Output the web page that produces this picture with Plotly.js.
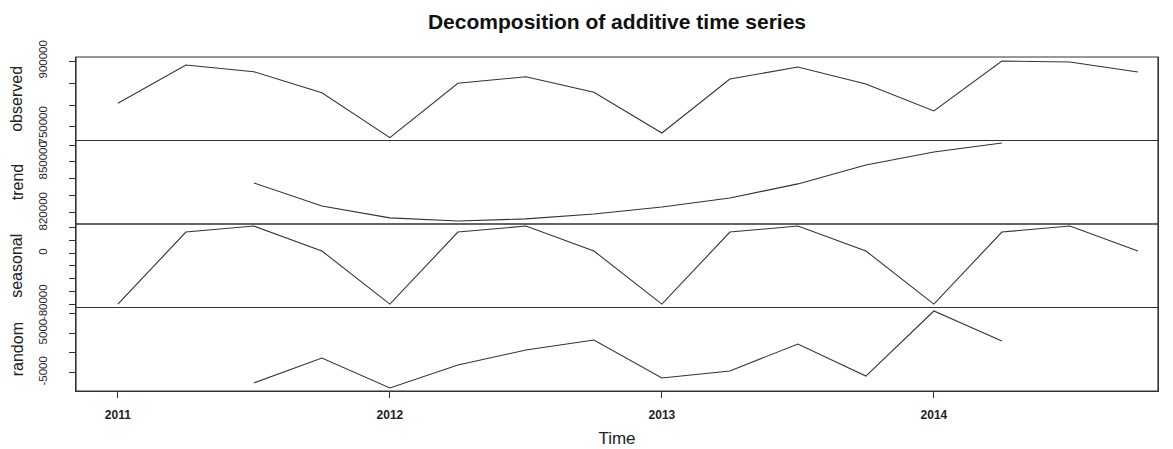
<!DOCTYPE html>
<html>
<head>
<meta charset="utf-8">
<script src="https://cdn.plot.ly/plotly-3.0.1.min.js"></script>
<style>html,body{margin:0;padding:0;background:#fff;}#chart{width:1173px;height:449px;}</style>
</head>
<body>
<div id="chart"></div>
<script>
// Quarterly time points
const time = [2011.00, 2011.25, 2011.50, 2011.75,
              2012.00, 2012.25, 2012.50, 2012.75,
              2013.00, 2013.25, 2013.50, 2013.75,
              2014.00, 2014.25, 2014.50, 2014.75];

const observed = [804000, 890900, 875700, 828000,
                  725700, 849300, 864300, 828900,
                  736400, 859100, 886400, 847700,
                  786400, 900000, 897700, 875000];

const trend = [null, null, 837650, 824100,
               817100, 815300, 816500, 819400,
               823500, 828800, 837100, 848200,
               855900, 861200, null, null];

const seasonal = [-80200, 33500, 43000, 3700,
                  -80200, 33500, 43000, 3700,
                  -80200, 33500, 43000, 3700,
                  -80200, 33500, 43000, 3700];

const random = [null, null, -7670, -1300,
                -8950, -3080, 740, 3290,
                -6400, -4600, 2270, -5900,
                10690, 3040, null, null];

const panelNames = ["observed", "trend", "seasonal", "random"];
const xTicks = [2011, 2012, 2013, 2014];
const xTickText = ["2011", "2012", "2013", "2014"];

const obsTicks = [750000, 800000, 850000, 900000];
const obsTickText = ["750000", "", "", "900000"];
const trendTicks = [820000, 830000, 840000, 850000, 860000];
const trendTickText = ["820000", "", "", "850000", ""];
const seasTicks = [-80000, -60000, -40000, -20000, 0, 20000, 40000];
const seasTickText = ["-80000", "", "", "", "0", "", ""];
const randTicks = [-5000, 0, 5000, 10000];
const randTickText = ["-5000", "", "5000", ""];

const lineStyle = {color: "#333333", width: 1.1};
const series = [observed, trend, seasonal, random];
const axisIds = ["y", "y2", "y3", "y4"];

const traces = series.map((s, i) => ({
  x: time, y: s, type: "scatter", mode: "lines",
  line: lineStyle, xaxis: "x", yaxis: axisIds[i],
  connectgaps: false, hoverinfo: "skip", showlegend: false
}));

const domains = [[0.75, 1.0], [0.5, 0.75], [0.25, 0.5], [0.0, 0.25]];
const ranges = [[719300, 909100], [813500, 862650], [-85530, 46240], [-9710, 11580]];
const tv = [obsTicks, trendTicks, seasTicks, randTicks];
const tt = [obsTickText, trendTickText, seasTickText, randTickText];

const fam = "Liberation Sans, Arial, sans-serif";
const yTickFont = {family: fam, size: 11.5, color: "#222"};
const xTickFont = {family: fam, size: 12, color: "#222", weight: "bold"};

function yAxis(i) {
  return {
    domain: domains[i], range: ranges[i], autorange: false,
    tickmode: "array", tickvals: tv[i], ticktext: tt[i],
    ticks: "outside", ticklen: 6, tickwidth: 1, tickcolor: "#333",
    tickangle: -90, tickfont: yTickFont, ticklabelstandoff: 17,
    showline: true, linecolor: "#333", linewidth: 1, mirror: true,
    showgrid: false, zeroline: false, anchor: "x", fixedrange: true
  };
}

const shapes = axisIds.map(id => ({
  type: "rect", xref: "paper", yref: id + " domain",
  x0: 0, x1: 1, y0: 0, y1: 1,
  line: {color: "#333", width: 1.2}, fillcolor: "rgba(0,0,0,0)"
}));

const annotations = panelNames.map((name, i) => ({
  text: name, xref: "paper", yref: axisIds[i] + " domain",
  x: -0.0545, y: 0.5, xanchor: "center", yanchor: "middle",
  textangle: -90, showarrow: false,
  font: {family: fam, size: 16, color: "#222"}
}));

const layout = {
  width: 1173, height: 449,
  margin: {l: 76, r: 15, t: 57, b: 58},
  paper_bgcolor: "#fff", plot_bgcolor: "#fff",
  title: {
    text: "<b>Decomposition of additive time series</b>",
    x: 0.5, xref: "paper", y: 0.952, yanchor: "middle",
    font: {family: fam, size: 21, color: "#111"}
  },
  xaxis: {
    range: [2010.846, 2014.824], autorange: false,
    tickmode: "array", tickvals: xTicks, ticktext: xTickText,
    ticks: "outside", ticklen: 6, tickwidth: 1, tickcolor: "#333",
    tickfont: xTickFont, ticklabelstandoff: 7,
    showline: true, linecolor: "#333", linewidth: 1,
    showgrid: false, zeroline: false, anchor: "y4", fixedrange: true,
    title: {text: "Time", standoff: 10,
            font: {family: fam, size: 17, color: "#222"}}
  },
  yaxis: yAxis(0), yaxis2: yAxis(1), yaxis3: yAxis(2), yaxis4: yAxis(3),
  shapes: shapes, annotations: annotations
};

Plotly.newPlot("chart", traces, layout, {displayModeBar: false, staticPlot: true});
</script>
</body>
</html>
